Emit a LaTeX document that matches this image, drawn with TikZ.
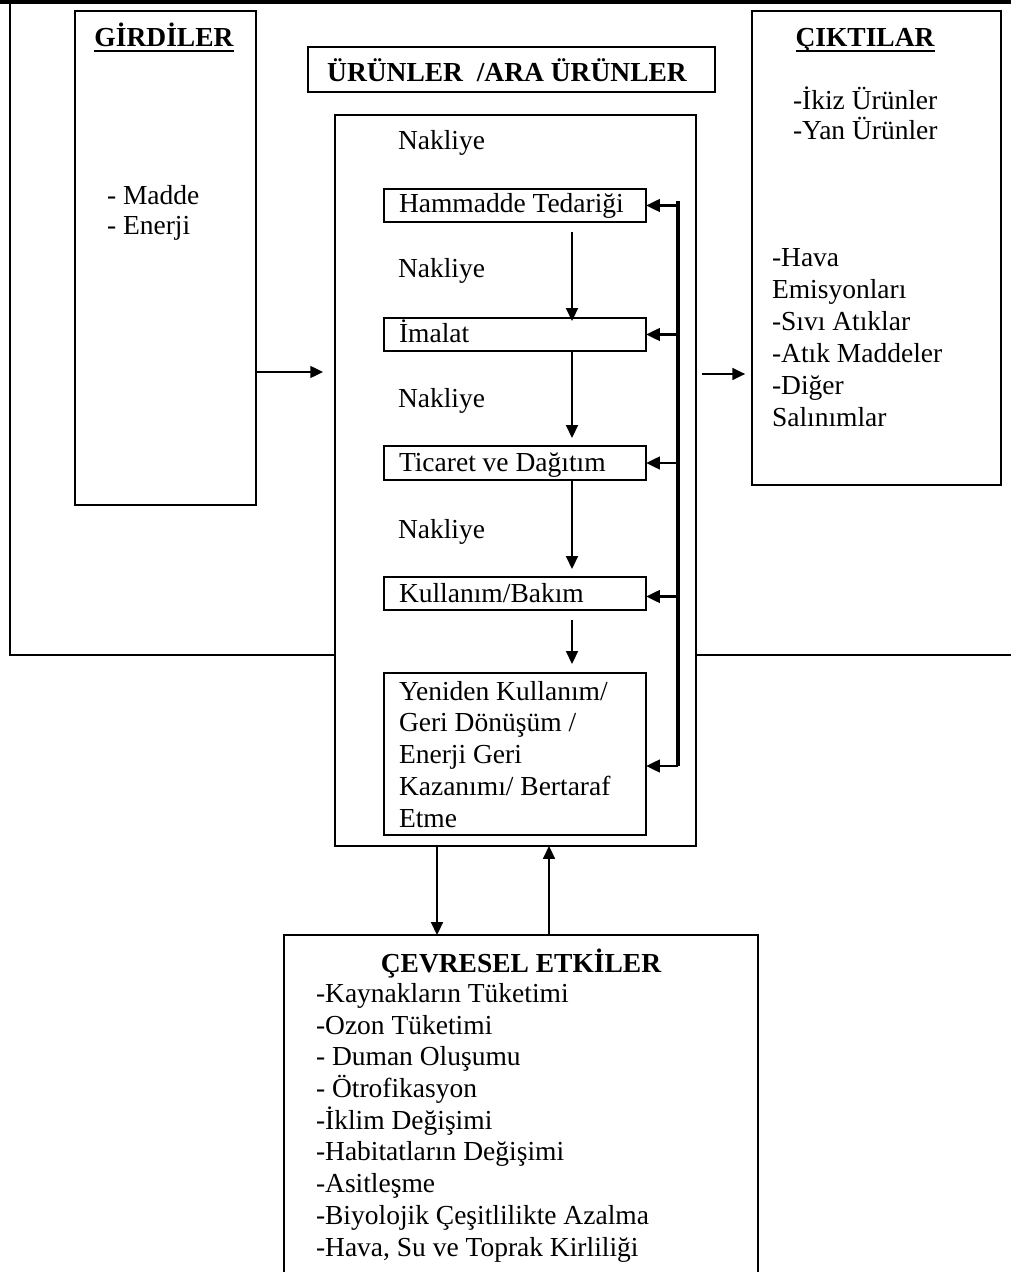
\documentclass[tikz,border=0pt]{standalone}
\usepackage{fontspec}
\setmainfont{Liberation Serif}
\usetikzlibrary{arrows.meta,fit}
% underline at a fixed depth below the baseline
\newcommand\ulined[1]{\setbox0\hbox{#1}\rlap{\rule[-2.4pt]{\wd0}{1.1pt}}\box0}
\begin{document}
\begin{tikzpicture}[x=0.4365pt,y=-0.4365pt,
  bigbox/.style={draw,line width=0.8pt,inner sep=0pt,outer sep=0pt},
  stepbox/.style={draw,line width=0.65pt,inner sep=0pt,outer sep=0pt},
  txt/.style={inner sep=0pt,outer sep=0pt,anchor=base west,align=left,font=\fontsize{12}{13.8}\selectfont},
  ttl/.style={inner sep=0pt,outer sep=0pt,anchor=base,font=\fontsize{12}{13.8}\selectfont\bfseries},
  arr/.style={line width=0.8pt,-{Triangle[length=5.6pt,width=5.2pt]}},
  fbarr/.style={line width=1.2pt,-{Triangle[length=6pt,width=5.4pt]}},
]
\useasboundingbox (0,0) rectangle (1011,1272);

% boxes
\node[bigbox, fit={(75,11) (256,505)}] (girdi) {};
\node[bigbox, fit={(752,11) (1001,485)}] (cikti) {};
\node[bigbox, fit={(308,47) (715,92)}] (urun) {};
\node[bigbox, fit={(335,115) (696,846)}] (main) {};
\node[stepbox, fit={(384,189) (646,222)}] (hamm) {};
\node[stepbox, fit={(384,318) (646,351)}] (imal) {};
\node[stepbox, fit={(384,446) (646,480)}] (tic) {};
\node[stepbox, fit={(384,577) (646,610)}] (kull) {};
\node[stepbox, fit={(384,673) (646,835)}] (yen) {};
\node[inner sep=0pt, outer sep=0pt, fit={(284,935) (758,1272)}] (cevre) {};
\draw[line width=0.8pt] (cevre.south west) -- (cevre.north west) -- (cevre.north east) -- (cevre.south east);

% outer frame lines
\coordinate (fl) at (10,655);
\coordinate (fr) at (1011,655);
\draw[line width=1.4pt] (0,2) -- (1011,2);
\draw[line width=1pt] (10,1) -- (fl) -- (main.west |- fl);
\draw[line width=1pt] (main.east |- fr) -- (fr);

% texts (multi-line nodes are placed by the baseline of their last line)
\node[ttl] (girdiT) at (164,47) {\ulined{GİRDİLER}};
\node[txt, font=\fontsize{12}{13.1}\selectfont] (girdiL) at (107,235) {- Madde\\- Enerji};
\node[ttl] (ciktiT) at (865,47) {\ulined{ÇIKTILAR}};
\node[txt, font=\fontsize{12}{13.1}\selectfont] (ciktiA) at (793,140) {-İkiz Ürünler\\-Yan Ürünler};
\node[txt, font=\fontsize{12}{13.97}\selectfont] (ciktiB) at (772,427) {-Hava\\Emisyonları\\-Sıvı Atıklar\\-Atık Maddeler\\-Diğer\\Salınımlar};
\node[ttl] (urunT) at (507,82) {ÜRÜNLER~ /ARA ÜRÜNLER};

\node[txt] (n1) at (398,150) {Nakliye};
\node[txt] (n2) at (398,278) {Nakliye};
\node[txt] (n3) at (398,408) {Nakliye};
\node[txt] (n4) at (398,538) {Nakliye};
\node[txt] (hammT) at (399,213) {Hammadde Tedariği};
\node[txt] (imalT) at (399,343) {İmalat};
\node[txt] (ticT) at (399,472) {Ticaret ve Dağıtım};
\node[txt] (kullT) at (399,602) {Kullanım/Bakım};
\node[txt, font=\fontsize{12}{13.84}\selectfont] (yenT) at (399,827) {Yeniden Kullanım/\\Geri Dönüşüm /\\Enerji Geri\\Kazanımı/ Bertaraf\\Etme};

\node[ttl] (cevreT) at (521,972) {ÇEVRESEL ETKİLER};
\node[txt, font=\fontsize{12}{13.84}\selectfont] (cevreL) at (316,1256) {-Kaynakların Tüketimi\\-Ozon Tüketimi\\- Duman Oluşumu\\- Ötrofikasyon\\-İklim Değişimi\\-Habitatların Değişimi\\-Asitleşme\\-Biyolojik Çeşitlilikte Azalma\\-Hava, Su ve Toprak Kirliliği};

% life-cycle flow
\coordinate (col) at (572,0);
\draw[arr] ([shift={(0,10)}]hamm.south -| col) -- ([shift={(0,3)}]imal.north -| col);
\draw[arr] (imal.south -| col) -- ([shift={(0,-8)}]tic.north -| col);
\draw[arr] (tic.south -| col) -- ([shift={(0,-8)}]kull.north -| col);
\draw[arr] ([shift={(0,10)}]kull.south -| col) -- ([shift={(0,-9)}]yen.north -| col);

% feedback line
\coordinate (fbtop) at (678,201);
\coordinate (fbbot) at (678,766);
\draw[line width=1.5pt] (fbtop) -- (fbbot);
\draw[fbarr] (fbtop |- hamm.east) -- (hamm.east);
\draw[fbarr] (fbtop |- imal.east) -- (imal.east);
\draw[fbarr] (fbtop |- tic.east) -- (tic.east);
\draw[fbarr] ([shift={(0,3)}]fbtop |- kull.east) -- ([shift={(0,3)}]kull.east);
\draw[fbarr] (fbbot) -- (yen.east |- fbbot);

% inputs and outputs
\coordinate (inlev) at (0,372);
\coordinate (outlev) at (0,374);
\draw[arr, shorten >=5.2pt] (girdi.east |- inlev) -- (main.west |- inlev);
\draw[arr, shorten <=2.6pt, shorten >=3pt] (main.east |- outlev) -- (cikti.west |- outlev);

% environmental impacts
\coordinate (dnx) at (437,0);
\coordinate (upx) at (549,0);
\draw[arr] (main.south -| dnx) -- (cevre.north -| dnx);
\draw[arr] (cevre.north -| upx) -- (main.south -| upx);
\end{tikzpicture}
\end{document}
